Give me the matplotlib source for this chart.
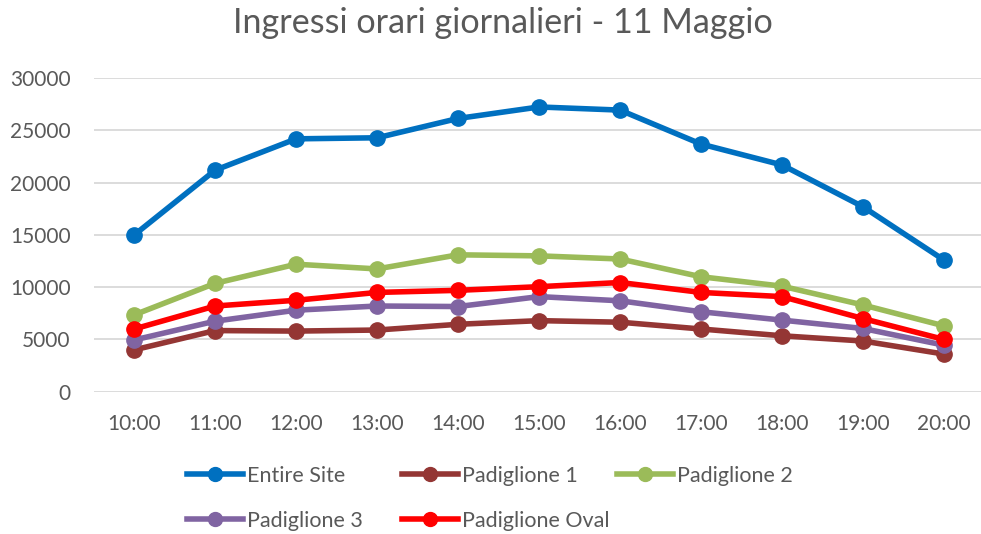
import numpy as np
import matplotlib.pyplot as plt
from matplotlib.lines import Line2D

plt.rcParams['font.family'] = ['Lato', 'DejaVu Sans']

# data
hours = ['10:00', '11:00', '12:00', '13:00', '14:00', '15:00',
         '16:00', '17:00', '18:00', '19:00', '20:00']
entire_site = [15000, 21200, 24200, 24300, 26150, 27250, 26950, 23700, 21700, 17700, 12600]
padiglione_1 = [4000, 5850, 5800, 5900, 6450, 6800, 6650, 6000, 5350, 4850, 3600]
padiglione_2 = [7350, 10370, 12200, 11750, 13100, 13000, 12700, 11000, 10100, 8300, 6300]
padiglione_3 = [4950, 6750, 7800, 8200, 8150, 9100, 8700, 7650, 6850, 6050, 4450]
padiglione_oval = [6000, 8200, 8750, 9500, 9700, 10050, 10450, 9500, 9100, 7000, 5000]

series = [
    ('Entire Site', entire_site, '#0070C0'),
    ('Padiglione 1', padiglione_1, '#943634'),
    ('Padiglione 2', padiglione_2, '#9BBB59'),
    ('Padiglione 3', padiglione_3, '#8064A2'),
    ('Padiglione Oval', padiglione_oval, '#FF0000'),
]

txt = '#595959'

fig = plt.figure(figsize=(9.81, 5.34), dpi=100)
ax = fig.add_axes([0.0955, 0.2665, 0.908, 0.587])

x = np.arange(len(hours))
for name, vals, col in series:
    ax.plot(x, vals, color=col, lw=4.0, marker='o', ms=11, label=name,
            solid_capstyle='round')

ax.set_xlim(-0.5, len(hours) - 0.5)
ax.set_ylim(0, 30000)
ax.set_yticks(np.arange(0, 30001, 5000))
ax.set_xticks(x)
ax.set_xticklabels(hours)
ax.grid(axis='y', color='#D9D9D9', lw=1.3)
ax.set_axisbelow(True)
for s in ax.spines.values():
    s.set_visible(False)
ax.tick_params(length=0, labelsize=15, colors=txt)
ax.tick_params(axis='x', pad=16)
ax.tick_params(axis='y', pad=16.5)

fig.text(0.513, 0.9376, 'Ingressi orari giornalieri - 11 Maggio',
         ha='center', va='baseline', fontsize=24.6, color=txt)

# legend entries placed like the Excel legend (3 per row)
pos = [(0.1903, 0.1092), (0.4095, 0.1092), (0.6287, 0.1092),
       (0.1903, 0.0249), (0.4095, 0.0249)]
for (px, py), (name, vals, col) in zip(pos, series):
    h = Line2D([], [], color=col, lw=4.0, marker='o', ms=10)
    leg = fig.legend([h], [name], loc='center left', bbox_to_anchor=(px, py),
                     frameon=False, fontsize=15.5, handlelength=2.6,
                     handletextpad=0.2, borderpad=0, borderaxespad=0)
    for t in leg.get_texts():
        t.set_color(txt)

fig.savefig('out.png', dpi=100)
